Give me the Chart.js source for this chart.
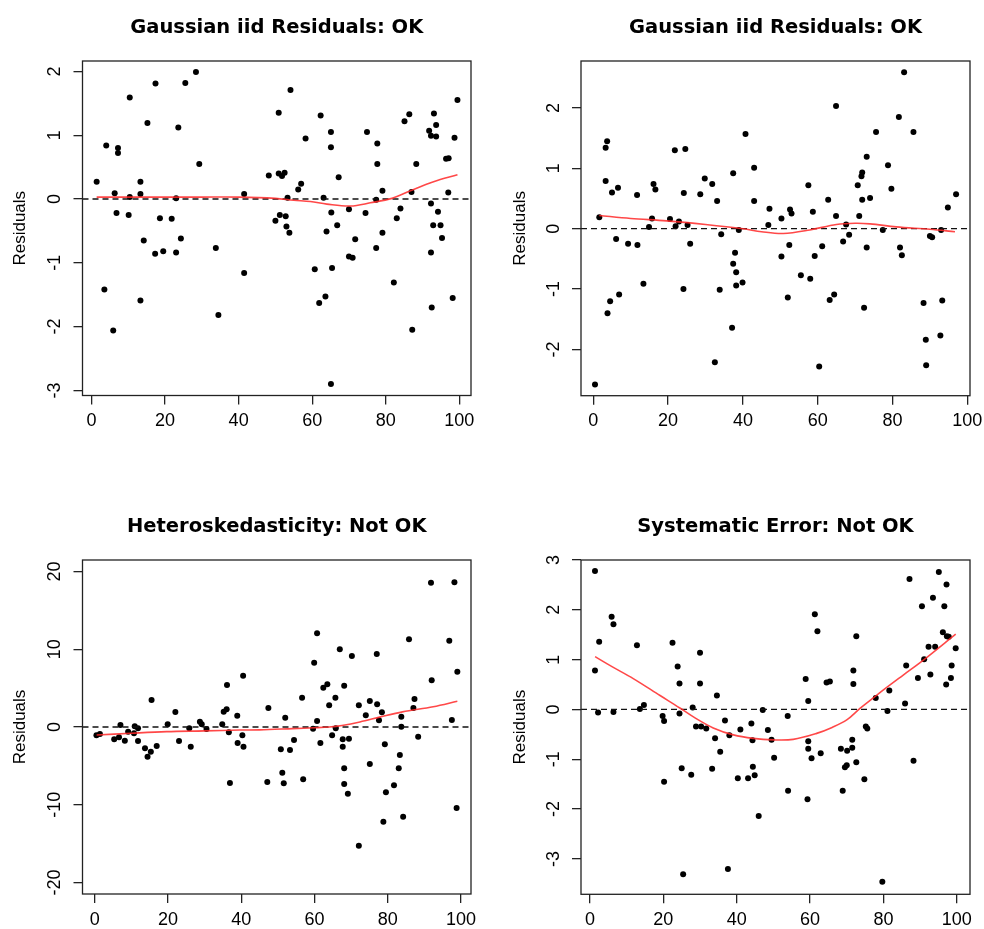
<!DOCTYPE html>
<html><head><meta charset="utf-8">
<script src="https://cdn.jsdelivr.net/npm/chart.js@4/dist/chart.umd.min.js"></script>
<style>
html,body{margin:0;padding:0;background:#fff;overflow:hidden;width:984px;height:929px;position:relative}
canvas{position:absolute}
</style></head><body>
<canvas id="c1" width="492" height="440" style="left:0;top:0"></canvas>
<canvas id="c2" width="492" height="440" style="left:492px;top:0"></canvas>
<canvas id="c3" width="492" height="430" style="left:0;top:499px"></canvas>
<canvas id="c4" width="492" height="430" style="left:492px;top:499px"></canvas>
<script>
// ---------- titles & ticks ----------
const panelTitles = ["Gaussian iid Residuals: OK", "Gaussian iid Residuals: OK", "Heteroskedasticity: Not OK", "Systematic Error: Not OK"];
const yAxisTitle = "Residuals";
const xTickValues = [0, 20, 40, 60, 80, 100];
const p1YTicks = [-3, -2, -1, 0, 1, 2];
const p2YTicks = [-2, -1, 0, 1, 2];
const p3YTicks = [-20, -10, 0, 10, 20];
const p4YTicks = [-3, -2, -1, 0, 1, 2, 3];
const p1XRange = [-2.45, 103.18], p1YRange = [-3.08, 2.163];
const p2XRange = [-3.29, 100.72], p2YRange = [-2.765, 2.777];
const p3XRange = [-3.36, 102.73], p3YRange = [-21.48, 21.48];
const p4XRange = [-2.45, 103.6],  p4YRange = [-3.71, 3.0];

// ---------- panel 1 : Gaussian iid residuals ----------
const p1X = [1.4,3.5,4.0,5.9,6.3,6.8,7.2,7.2,10.1,10.4,10.4,13.3,13.3,13.3,14.2,15.2,17.3,17.4,18.6,19.5,21.8,23.0,23.0,23.6,24.3,25.5,28.4,29.3,33.8,34.5,41.5,41.5,
48.2,50.0,50.9,50.9,51.2,51.8,52.5,52.8,53.0,53.3,53.8,54.1,56.2,57.0,58.2,60.7,61.9,62.3,63.1,63.6,63.9,65.1,65.1,65.2,65.4,65.1,66.8,67.2,70.0,70.0,71.0,71.7,74.5,74.9,77.4,77.4,77.7,77.7,79.1,79.1,82.2,83.0,84.0,85.1,86.4,87.0,87.2,88.3,91.8,92.3,92.3,92.3,92.5,92.9,93.1,93.7,93.7,94.2,94.9,95.3,96.4,97.0,97.1,98.2,98.7,99.5];
const p1Y = [0.27,-1.42,0.84,-2.06,0.09,-0.22,0.80,0.72,-0.25,1.59,0.03,0.27,0.08,-1.59,-0.65,1.19,-0.86,1.81,-0.30,-0.82,-0.31,0.01,-0.84,1.12,-0.62,1.82,1.99,0.55,-0.77,-1.82,0.08,-1.16,
0.37,-0.34,1.35,0.40,-0.25,0.36,0.41,-0.27,-0.43,0.02,-0.53,1.71,0.15,0.24,0.95,-1.10,-1.63,1.31,0.02,-1.53,-0.51,1.05,0.81,-0.21,-1.08,-2.90,-0.41,0.34,-0.16,-0.90,-0.92,-0.63,-0.22,1.05,-0.01,-0.77,0.87,0.55,0.13,-0.53,-1.31,-0.30,-0.15,1.22,1.33,0.11,-2.05,0.55,1.07,0.99,-0.07,-0.84,-1.70,-0.41,1.34,1.16,0.98,-0.20,-0.41,-0.61,0.63,0.10,0.64,-1.55,0.96,1.55];
const p1SmoothX = [1.4,10,20,30,40,50,55,59.5,64,70.4,75.8,81.7,86.7,93,99.5];
const p1SmoothY = [0.03,0.03,0.03,0.03,0.03,0.01,-0.02,-0.04,-0.08,-0.11,-0.06,0.01,0.13,0.27,0.38];

// ---------- panel 2 : Gaussian iid residuals ----------
const p2X = [0.45,1.6,3.3,3.7,3.3,3.8,4.5,5.0,6.1,6.6,6.9,9.3,11.7,11.8,13.4,14.9,15.7,16.1,16.6,20.5,21.8,22.0,22.9,24.1,24.2,24.6,25.2,25.9,28.6,29.8,31.8,32.5,33.1,33.8,34.2,37.1,37.4,37.4,37.9,38.2,38.2,38.9,39.9,40.7,43.0,43.0,46.8,47.1,50.3,50.3,52.0,52.4,52.6,53.0,55.5,57.5,58.0,58.7,59.2,60.4,61.2,62.8,63.2,64.4,64.9,64.9,66.8,67.6,68.4,70.7,71.1,71.7,71.9,71.9,72.4,73.1,73.1,74.0,75.6,77.4,78.8,79.7,81.7,82.0,82.5,83.1,85.6,88.3,88.9,89.0,90.0,90.6,92.8,93.0,93.3,94.8,97.0];
const p2Y = [-2.58,0.19,1.34,1.45,0.79,-1.40,-1.20,0.60,-0.17,0.68,-1.09,-0.25,0.56,-0.27,-0.91,0.03,0.17,0.74,0.65,0.16,1.30,0.04,0.12,-1.00,0.59,1.32,0.06,-0.25,0.57,0.83,0.74,-2.21,0.46,-1.01,-0.09,-1.64,0.92,-0.58,-0.40,-0.72,-0.94,-0.02,-0.89,1.57,1.01,0.46,0.06,0.33,0.17,-0.46,-1.14,-0.27,0.32,0.25,-0.77,0.72,-0.83,0.28,-0.45,-2.28,-0.29,0.48,-1.18,-1.09,2.03,0.21,-0.21,0.07,-0.10,0.72,0.21,0.87,0.93,0.48,-1.31,1.19,-0.31,0.51,1.60,-0.02,1.05,0.66,1.85,-0.31,-0.44,2.59,1.60,-1.23,-1.84,-2.26,-0.12,-0.14,-1.77,-0.02,-1.19,0.35,0.57];
const p2SmoothX = [1.6,10,19.6,30,40,45,50.8,57.9,65,70,74,81,90,96.7];
const p2SmoothY = [0.22,0.17,0.13,0.07,0.0,-0.05,-0.08,-0.02,0.07,0.09,0.08,0.03,-0.01,-0.05];

// ---------- panel 3 : heteroskedasticity ----------
const p3X = [0.45,1.4,5.3,6.6,7.0,8.2,9.1,10.7,10.9,11.8,11.8,13.7,14.4,15.3,15.5,16.9,19.9,22.0,23.0,25.8,26.2,28.7,29.2,30.5,34.8,35.2,36.0,36.1,36.6,36.9,38.9,39.0,40.3,40.5,40.6,47.4,47.1,50.8,51.2,51.6,52.0,53.3,54.4,56.6,56.9,59.6,59.9,60.7,60.7,61.6,62.4,63.5,64.0,64.8,65.7,65.8,66.9,67.7,67.7,68.1,68.1,68.1,69.1,69.4,70.2,72.1,72.1,74.0,75.1,75.1,77.0,77.1,77.6,78.4,78.8,79.2,79.5,81.7,83.0,83.3,83.7,83.7,84.2,85.8,87.0,87.3,88.3,91.8,92.0,96.8,97.5,98.2,98.8,99.0];
const p3Y = [-1.07,-0.90,-1.59,-1.33,0.26,-1.76,-0.60,-0.81,0.09,-0.17,-1.80,-2.74,-3.82,-3.17,3.47,-2.44,0.35,1.93,-1.80,-0.17,-2.53,0.68,0.35,-0.26,0.35,1.97,2.27,5.40,-0.68,-7.20,1.45,-2.06,-1.07,6.60,-2.53,2.44,-7.07,-2.87,-5.88,-7.24,1.20,-2.96,-1.67,3.77,-6.73,-0.22,8.27,0.77,12.05,-2.06,5.06,5.49,2.79,-1.07,3.77,-0.17,9.99,-1.58,-2.53,5.31,-5.31,-7.33,-8.58,-1.50,9.13,2.79,-15.27,1.50,3.34,-4.76,9.39,2.92,0.86,1.89,-12.18,-2.23,-8.40,-7.50,-5.31,-3.60,1.33,0.04,-11.54,11.28,2.44,3.60,-1.24,18.56,6.01,11.10,0.90,18.61,-10.42,7.11];
const p3SmoothX = [0.5,10,19.6,30,39.6,45,54,60,64,67.5,72.4,78,84,92.4,99];
const p3SmoothY = [-1.03,-0.8,-0.6,-0.5,-0.39,-0.37,-0.21,-0.1,0.0,0.2,0.65,1.3,1.95,2.6,3.3];

// ---------- panel 4 : systematic error ----------
const p4X = [1.36,1.36,2.2,2.5,5.9,6.4,6.4,12.8,13.6,14.7,19.8,20.2,20.2,22.5,23.9,24.4,24.4,25.0,25.4,27.6,28.0,28.9,30.0,30.0,30.3,31.7,33.3,34.1,34.6,35.5,36.8,37.6,38.0,40.3,41.0,43.1,44.0,44.3,44.4,44.9,46.0,47.1,48.5,49.5,50.2,53.9,54.0,58.8,59.3,59.5,59.5,59.5,60.4,61.3,62.0,62.9,64.5,65.4,68.4,68.9,69.5,70.0,70.1,71.5,71.5,71.8,71.8,72.6,72.6,74.8,75.2,75.6,77.9,79.7,81.1,81.6,85.9,86.2,87.1,88.2,89.4,90.5,91.1,92.3,92.8,93.5,94.1,95.1,96.2,96.6,97.1,97.2,97.3,97.8,98.4,98.6,99.7];
const p4Y = [2.78,0.78,-0.06,1.36,1.86,1.71,-0.05,1.29,0.01,0.09,-0.13,-0.23,-1.45,1.34,0.86,0.52,-0.08,-1.18,-3.31,-1.31,0.04,-0.34,1.14,0.52,-0.34,-0.38,-1.19,-0.58,0.28,-0.85,-0.22,-3.20,-0.52,-1.38,-0.40,-1.38,-0.28,-0.62,-1.15,-1.32,-2.14,-0.01,-0.41,-0.61,-0.97,-0.13,-1.63,0.61,-1.80,0.17,-0.64,-0.79,-0.98,1.91,1.57,-0.88,0.54,0.56,-0.79,-1.63,-1.16,-1.12,-0.83,-0.77,-0.61,0.78,0.51,1.47,-1.06,-1.40,-0.34,-0.38,0.23,-3.46,-0.03,0.38,0.12,0.88,2.62,-1.03,0.63,2.07,1.01,1.26,0.70,2.24,1.26,2.76,1.55,2.07,0.50,2.51,1.47,1.46,0.63,0.88,1.23];
const p4SmoothX = [1.4,6,11.8,19.1,24.5,28.2,33.6,39.1,44.5,50,55.4,61.8,66,70,73.6,78.2,85.4,90.9,99.7];
const p4SmoothY = [1.06,0.86,0.62,0.28,0.03,-0.15,-0.37,-0.51,-0.58,-0.61,-0.60,-0.48,-0.36,-0.21,0.02,0.29,0.69,0.99,1.51];

// ---------- drawing ----------
const FONT = '"Liberation Sans", Arial, sans-serif';
const TITLE_FONT = '"DejaVu Sans", Verdana, sans-serif';
const TICK_SIZE = 18;
const zip = (xs, ys) => xs.map((x, i) => ({x, y: ys[i]}));

const measureCtx = document.createElement('canvas').getContext('2d');
function widestLabel(vals) {
  measureCtx.font = TICK_SIZE + 'px ' + FONT;
  return Math.max(...vals.map(v => measureCtx.measureText(String(v)).width));
}

const boxPlugin = {
  id: 'plotBox',
  afterDatasetsDraw(chart) {
    const {ctx, chartArea: a} = chart;
    ctx.save();
    ctx.strokeStyle = '#222';
    ctx.lineWidth = 1.3;
    ctx.strokeRect(a.left, a.top, a.right - a.left, a.bottom - a.top);
    ctx.restore();
  }
};

function makePanel(id, title, xs, ys, sx, sy, xRange, yRange, yTicks, lay) {
  const tickPad = 18 - widestLabel(yTicks) / 2;
  new Chart(document.getElementById(id), {
    type: 'scatter',
    data: {
      datasets: [
        { data: zip(sx, sy), showLine: true, borderColor: 'rgba(255,40,40,0.85)', borderWidth: 1.6,
          pointRadius: 0, tension: 0.35, order: 1 },
        { data: [{x: xRange[0], y: 0}, {x: xRange[1], y: 0}], showLine: true, borderColor: '#111',
          borderWidth: 1.3, borderDash: [6, 4], pointRadius: 0, order: 2 },
        { data: zip(xs, ys), backgroundColor: '#000', borderColor: '#000', pointRadius: 3,
          pointStyle: 'circle', borderWidth: 0, order: 3 }
      ]
    },
    options: {
      responsive: false, animation: false, devicePixelRatio: 1,
      layout: { padding: { left: 0, right: lay.padRight, top: 0, bottom: 0 } },
      plugins: {
        legend: { display: false }, tooltip: { enabled: false },
        title: { display: true, text: title, fullSize: false, color: '#000',
          font: { family: TITLE_FONT, size: 19.5, weight: 'bold', lineHeight: 1.2 },
          padding: { top: 15.8, bottom: 21.8 } }
      },
      scales: {
        x: {
          type: 'linear', position: 'bottom', min: xRange[0], max: xRange[1],
          afterBuildTicks: s => { s.ticks = xTickValues.map(v => ({value: v})); },
          afterFit: s => { s.height = lay.xHeight; s.paddingLeft = 0; s.paddingRight = 0; },
          grid: { display: true, drawOnChartArea: false, drawTicks: true, tickLength: 9, color: '#222', lineWidth: 1.3 },
          border: { display: false },
          ticks: { autoSkip: false, maxRotation: 0, minRotation: 0, padding: 6, color: '#000',
            font: { family: FONT, size: TICK_SIZE }, callback: v => String(v) }
        },
        y: {
          type: 'linear', position: 'left', min: yRange[0], max: yRange[1],
          afterBuildTicks: s => { s.ticks = yTicks.map(v => ({value: v})); },
          afterFit: s => { s.width = lay.yWidth; s.paddingTop = 0; s.paddingBottom = 0; },
          grid: { display: true, drawOnChartArea: false, drawTicks: true, tickLength: 9, color: '#222', lineWidth: 1.3 },
          border: { display: false },
          title: { display: true, text: yAxisTitle, color: '#000', font: { family: FONT, size: 17, lineHeight: 1.2 },
            padding: { top: lay.yTitlePad, bottom: 0 } },
          ticks: { autoSkip: false, minRotation: 90, maxRotation: 90, crossAlign: 'center', padding: tickPad,
            color: '#000', font: { family: FONT, size: TICK_SIZE }, callback: v => String(v) }
        }
      }
    },
    plugins: [boxPlugin]
  });
}

makePanel('c1', panelTitles[0], p1X, p1Y, p1SmoothX, p1SmoothY, p1XRange, p1YRange, p1YTicks,
  { yWidth: 82.5, xHeight: 44.5, padRight: 21, yTitlePad: 9.8 });
makePanel('c2', panelTitles[1], p2X, p2Y, p2SmoothX, p2SmoothY, p2XRange, p2YRange, p2YTicks,
  { yWidth: 89, xHeight: 44.3, padRight: 14, yTitlePad: 17.8 });
makePanel('c3', panelTitles[2], p3X, p3Y, p3SmoothX, p3SmoothY, p3XRange, p3YRange, p3YTicks,
  { yWidth: 82.5, xHeight: 35, padRight: 21, yTitlePad: 9.8 });
makePanel('c4', panelTitles[3], p4X, p4Y, p4SmoothX, p4SmoothY, p4XRange, p4YRange, p4YTicks,
  { yWidth: 89, xHeight: 34.7, padRight: 14, yTitlePad: 17.8 });
</script>
</body></html>
